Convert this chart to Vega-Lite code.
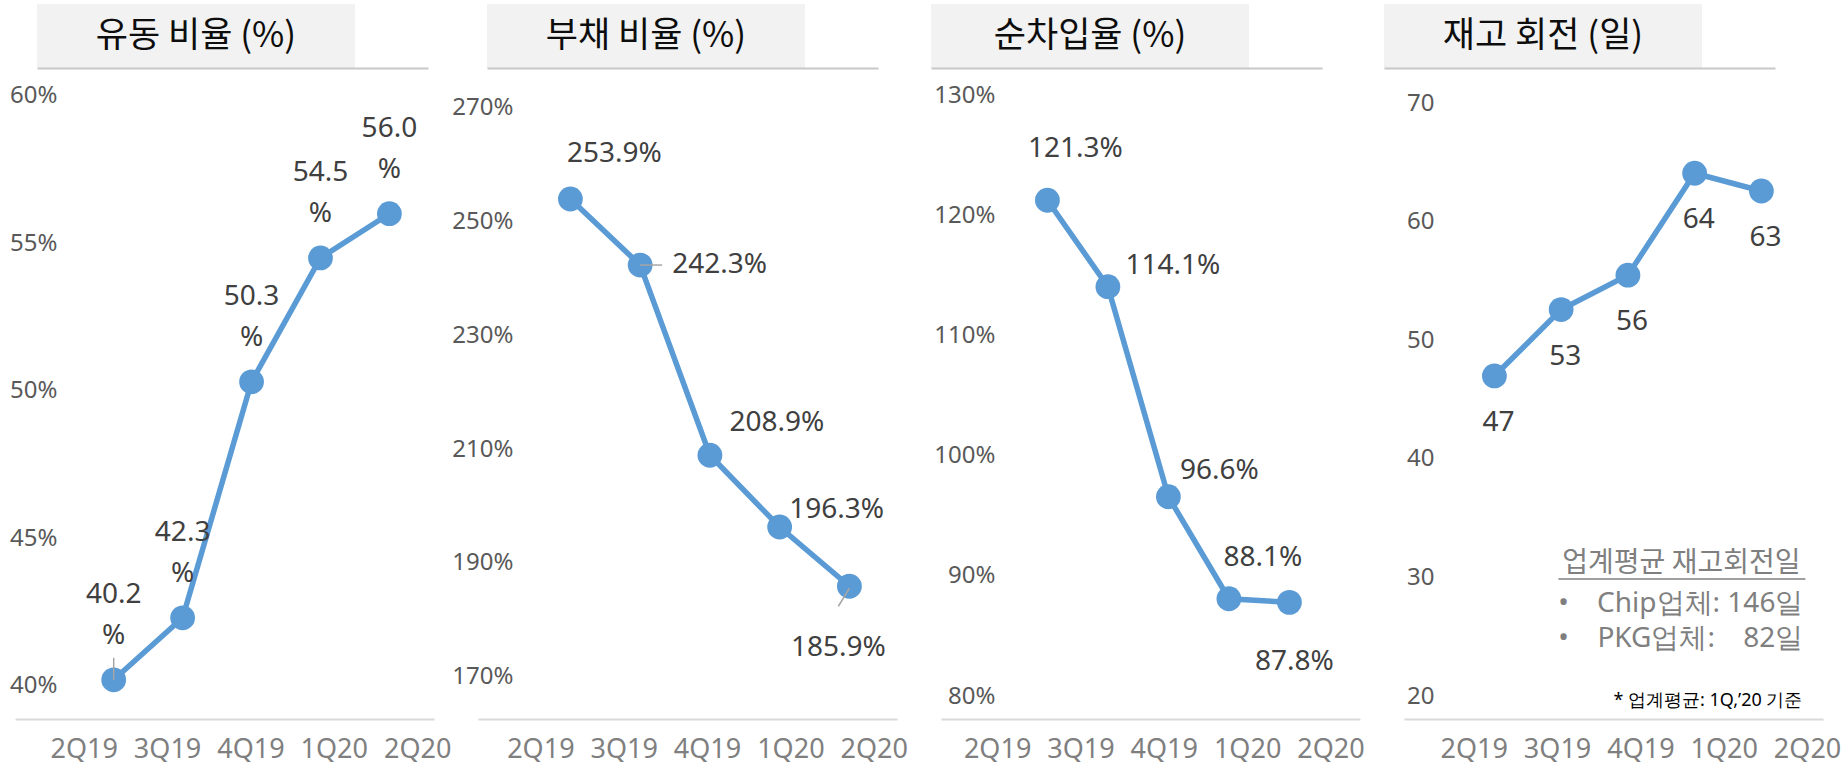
{
  "$schema": "https://vega.github.io/schema/vega-lite/v6.json",
  "background": "#ffffff",
  "padding": {"left": 9, "top": 4, "right": 0, "bottom": 0},
  "config": {"view": {"stroke": null}, "font": "Noto Sans"},
  "datasets": {
    "p1": [{"q": "2Q19", "v": 40.2}, {"q": "3Q19", "v": 42.3}, {"q": "4Q19", "v": 50.3}, {"q": "1Q20", "v": 54.5}, {"q": "2Q20", "v": 56.0}],
    "p2": [{"q": "2Q19", "v": 253.9}, {"q": "3Q19", "v": 242.3}, {"q": "4Q19", "v": 208.9}, {"q": "1Q20", "v": 196.3}, {"q": "2Q20", "v": 185.9}],
    "p3": [{"q": "2Q19", "v": 121.3}, {"q": "3Q19", "v": 114.1}, {"q": "4Q19", "v": 96.6}, {"q": "1Q20", "v": 88.1}, {"q": "2Q20", "v": 87.8}],
    "p4": [{"q": "2Q19", "v": 47.0}, {"q": "3Q19", "v": 52.6}, {"q": "4Q19", "v": 55.5}, {"q": "1Q20", "v": 64.1}, {"q": "2Q20", "v": 62.6}]
  },
  "vconcat": [
    {
      "hconcat": [
        {
          "width": 419, "height": 64,
          "data": {"values": [{"title": "유동 비율 (%)"}]},
          "encoding": {"x": {"field": "title", "type": "nominal", "scale": {"type": "band", "range": [22, 413], "paddingInner": 0, "paddingOuter": 0.11478, "align": 0}, "axis": {"labels": false, "ticks": false, "title": null, "grid": false, "domainColor": "#c8c8c8", "domainWidth": 2}}},
          "layer": [
            {"mark": {"type": "rect", "color": "#f2f2f2"}},
            {"mark": {"type": "text", "font": "Noto Sans CJK KR", "fontSize": 35, "color": "#0d0d0d"}, "encoding": {"text": {"field": "title"}}}
          ]
        },
        {
          "width": 419, "height": 64,
          "data": {"values": [{"title": "부채 비율 (%)"}]},
          "encoding": {"x": {"field": "title", "type": "nominal", "scale": {"type": "band", "range": [9, 400], "paddingInner": 0, "paddingOuter": 0.11478, "align": 0}, "axis": {"labels": false, "ticks": false, "title": null, "grid": false, "domainColor": "#c8c8c8", "domainWidth": 2}}},
          "layer": [
            {"mark": {"type": "rect", "color": "#f2f2f2"}},
            {"mark": {"type": "text", "font": "Noto Sans CJK KR", "fontSize": 35, "color": "#0d0d0d"}, "encoding": {"text": {"field": "title"}}}
          ]
        },
        {
          "width": 419, "height": 64,
          "data": {"values": [{"title": "순차입율 (%)"}]},
          "encoding": {"x": {"field": "title", "type": "nominal", "scale": {"type": "band", "range": [-10, 381], "paddingInner": 0, "paddingOuter": 0.11478, "align": 0}, "axis": {"labels": false, "ticks": false, "title": null, "grid": false, "domainColor": "#c8c8c8", "domainWidth": 2}}},
          "layer": [
            {"mark": {"type": "rect", "color": "#f2f2f2"}},
            {"mark": {"type": "text", "font": "Noto Sans CJK KR", "fontSize": 35, "color": "#0d0d0d"}, "encoding": {"text": {"field": "title"}}}
          ]
        },
        {
          "width": 419, "height": 64,
          "data": {"values": [{"title": "재고 회전 (일)"}]},
          "encoding": {"x": {"field": "title", "type": "nominal", "scale": {"type": "band", "range": [-20, 371], "paddingInner": 0, "paddingOuter": 0.11478, "align": 0}, "axis": {"labels": false, "ticks": false, "title": null, "grid": false, "domainColor": "#c8c8c8", "domainWidth": 2}}},
          "layer": [
            {"mark": {"type": "rect", "color": "#f2f2f2"}},
            {"mark": {"type": "text", "font": "Noto Sans CJK KR", "fontSize": 35, "color": "#0d0d0d"}, "encoding": {"text": {"field": "title"}}}
          ]
        }
      ],
      "spacing": 44, "bounds": "flush"
    },
    {
      "hconcat": [
        {
          "width": 419, "height": 640,
          "data": {"name": "p1"},
          "transform": [{"calculate": "format(datum.v, '.1f') + '\\n%'", "as": "lab"}],
          "layer": [
            {
              "encoding": {
                "x": {"field": "q", "type": "ordinal", "sort": null, "scale": {"type": "point", "padding": 0, "range": [98.7, 374.4]}, "axis": null},
                "y": {"field": "v", "type": "quantitative", "scale": {"domain": [38.871, 60.566], "nice": false, "zero": false}, "axis": {"values": [40, 45, 50, 55, 60], "labelExpr": "datum.value + '%'", "domain": false, "ticks": false, "grid": false, "title": null, "labelPadding": 0, "offset": -42, "labelFontSize": 24, "labelColor": "#595959", "labelFont": "Noto Sans"}}
              },
              "layer": [
                {"mark": {"type": "line", "color": "#5b9bd5", "strokeWidth": 5.5}},
                {"mark": {"type": "circle", "color": "#5b9bd5", "size": 615, "opacity": 1}},
                {"transform": [{"filter": "datum.q == '2Q19'"}], "mark": {"type": "rule", "color": "#a6a6a6", "strokeWidth": 1.5, "y2Offset": -22}, "encoding": {"y2": {"field": "v"}}},
                {"mark": {"type": "text", "font": "Noto Sans", "fontSize": 28, "color": "#404040", "baseline": "middle", "align": "center", "lineBreak": "\n", "lineHeight": 41, "dy": -85}, "encoding": {"text": {"field": "lab"}}}
              ]
            },
            {"mark": {"type": "rule", "opacity": 0}, "encoding": {"x": {"field": "q", "type": "ordinal", "sort": null, "scale": {"type": "point", "padding": 0.513, "align": 0.803}, "axis": {"orient": "bottom", "domainColor": "#d9d9d9", "domainWidth": 2, "ticks": false, "tickSize": 0, "grid": false, "title": null, "labelPadding": 30, "labelFontSize": 27, "labelColor": "#7f7f7f", "labelFont": "Noto Sans", "labelBaseline": "middle", "labelAngle": 0, "labelOverlap": false, "labelFlush": false}}}}
          ],
          "resolve": {"scale": {"x": "independent"}, "axis": {"x": "independent"}}
        },
        {
          "width": 419, "height": 640,
          "data": {"name": "p2"},
          "transform": [{"calculate": "format(datum.v, '.1f') + '%'", "as": "lab"}],
          "layer": [
            {
              "encoding": {
                "x": {"field": "q", "type": "ordinal", "sort": null, "scale": {"type": "point", "padding": 0, "range": [92.4, 371.4]}, "axis": null},
                "y": {"field": "v", "type": "quantitative", "scale": {"domain": [162.59, 274.97], "nice": false, "zero": false}, "axis": {"values": [170, 190, 210, 230, 250, 270], "labelExpr": "datum.value + '%'", "domain": false, "ticks": false, "grid": false, "title": null, "labelPadding": 0, "offset": -35, "labelFontSize": 24, "labelColor": "#595959", "labelFont": "Noto Sans"}}
              },
              "layer": [
                {"mark": {"type": "line", "color": "#5b9bd5", "strokeWidth": 5.5}},
                {"mark": {"type": "circle", "color": "#5b9bd5", "size": 615, "opacity": 1}},
                {"transform": [{"filter": "datum.q == '3Q19'"}], "mark": {"type": "rule", "color": "#a6a6a6", "strokeWidth": 1.5, "x2Offset": 22}, "encoding": {"x2": {"field": "q"}, "y2": {"field": "v"}}},
                {"transform": [{"filter": "datum.q == '2Q20'"}], "mark": {"type": "rule", "color": "#a6a6a6", "strokeWidth": 1.5, "yOffset": 2, "x2Offset": -11, "y2Offset": 20}, "encoding": {"x2": {"field": "q"}, "y2": {"field": "v"}}},
                {"transform": [{"filter": "datum.q == '2Q19'"}], "mark": {"type": "text", "font": "Noto Sans", "fontSize": 28, "color": "#404040", "baseline": "middle", "align": "center", "dx": 44, "dy": -45}, "encoding": {"text": {"field": "lab"}}},
                {"transform": [{"filter": "datum.q == '3Q19'"}], "mark": {"type": "text", "font": "Noto Sans", "fontSize": 28, "color": "#404040", "baseline": "middle", "align": "left", "dx": 32, "dy": 0}, "encoding": {"text": {"field": "lab"}}},
                {"transform": [{"filter": "datum.q == '4Q19'"}], "mark": {"type": "text", "font": "Noto Sans", "fontSize": 28, "color": "#404040", "baseline": "middle", "align": "center", "dx": 67, "dy": -32}, "encoding": {"text": {"field": "lab"}}},
                {"transform": [{"filter": "datum.q == '1Q20'"}], "mark": {"type": "text", "font": "Noto Sans", "fontSize": 28, "color": "#404040", "baseline": "middle", "align": "center", "dx": 57, "dy": -17}, "encoding": {"text": {"field": "lab"}}},
                {"transform": [{"filter": "datum.q == '2Q20'"}], "mark": {"type": "text", "font": "Noto Sans", "fontSize": 28, "color": "#404040", "baseline": "middle", "align": "center", "dx": -11, "dy": 62}, "encoding": {"text": {"field": "lab"}}}
              ]
            },
            {"mark": {"type": "rule", "opacity": 0}, "encoding": {"x": {"field": "q", "type": "ordinal", "sort": null, "scale": {"type": "point", "padding": 0.514, "align": 0.728}, "axis": {"orient": "bottom", "domainColor": "#d9d9d9", "domainWidth": 2, "ticks": false, "tickSize": 0, "grid": false, "title": null, "labelPadding": 30, "labelFontSize": 27, "labelColor": "#7f7f7f", "labelFont": "Noto Sans", "labelBaseline": "middle", "labelAngle": 0, "labelOverlap": false, "labelFlush": false}}}}
          ],
          "resolve": {"scale": {"x": "independent"}, "axis": {"x": "independent"}}
        },
        {
          "width": 419, "height": 640,
          "data": {"name": "p3"},
          "transform": [{"calculate": "format(datum.v, '.1f') + '%'", "as": "lab"}],
          "layer": [
            {
              "encoding": {
                "x": {"field": "q", "type": "ordinal", "sort": null, "scale": {"type": "point", "padding": 0, "range": [106.4, 348.4]}, "axis": null},
                "y": {"field": "v", "type": "quantitative", "scale": {"domain": [78.084, 131.4], "nice": false, "zero": false}, "axis": {"values": [80, 90, 100, 110, 120, 130], "labelExpr": "datum.value + '%'", "domain": false, "ticks": false, "grid": false, "title": null, "labelPadding": 0, "offset": -54, "labelFontSize": 24, "labelColor": "#595959", "labelFont": "Noto Sans"}}
              },
              "layer": [
                {"mark": {"type": "line", "color": "#5b9bd5", "strokeWidth": 5.5}},
                {"mark": {"type": "circle", "color": "#5b9bd5", "size": 615, "opacity": 1}},
                {"transform": [{"filter": "datum.q == '2Q19'"}], "mark": {"type": "text", "font": "Noto Sans", "fontSize": 28, "color": "#404040", "baseline": "middle", "align": "center", "dx": 28, "dy": -51}, "encoding": {"text": {"field": "lab"}}},
                {"transform": [{"filter": "datum.q == '3Q19'"}], "mark": {"type": "text", "font": "Noto Sans", "fontSize": 28, "color": "#404040", "baseline": "middle", "align": "center", "dx": 65, "dy": -21}, "encoding": {"text": {"field": "lab"}}},
                {"transform": [{"filter": "datum.q == '4Q19'"}], "mark": {"type": "text", "font": "Noto Sans", "fontSize": 28, "color": "#404040", "baseline": "middle", "align": "center", "dx": 51, "dy": -26}, "encoding": {"text": {"field": "lab"}}},
                {"transform": [{"filter": "datum.q == '1Q20'"}], "mark": {"type": "text", "font": "Noto Sans", "fontSize": 28, "color": "#404040", "baseline": "middle", "align": "center", "dx": 34, "dy": -41}, "encoding": {"text": {"field": "lab"}}},
                {"transform": [{"filter": "datum.q == '2Q20'"}], "mark": {"type": "text", "font": "Noto Sans", "fontSize": 28, "color": "#404040", "baseline": "middle", "align": "center", "dx": 5, "dy": 60}, "encoding": {"text": {"field": "lab"}}}
              ]
            },
            {"mark": {"type": "rule", "opacity": 0}, "encoding": {"x": {"field": "q", "type": "ordinal", "sort": null, "scale": {"type": "point", "padding": 0.514, "align": 0.655}, "axis": {"orient": "bottom", "domainColor": "#d9d9d9", "domainWidth": 2, "ticks": false, "tickSize": 0, "grid": false, "title": null, "labelPadding": 30, "labelFontSize": 27, "labelColor": "#7f7f7f", "labelFont": "Noto Sans", "labelBaseline": "middle", "labelAngle": 0, "labelOverlap": false, "labelFlush": false}}}}
          ],
          "resolve": {"scale": {"x": "independent"}, "axis": {"x": "independent"}}
        },
        {
          "width": 419, "height": 640,
          "data": {"name": "p4"},
          "layer": [
            {
              "encoding": {
                "x": {"field": "q", "type": "ordinal", "sort": null, "scale": {"type": "point", "padding": 0, "range": [90.4, 357.4]}, "axis": null},
                "y": {"field": "v", "type": "quantitative", "scale": {"domain": [18.06, 72.05], "nice": false, "zero": false}, "axis": {"values": [20, 30, 40, 50, 60, 70], "domain": false, "ticks": false, "grid": false, "title": null, "labelPadding": 0, "offset": -30, "labelFontSize": 24, "labelColor": "#595959", "labelFont": "Noto Sans"}}
              },
              "layer": [
                {"mark": {"type": "line", "color": "#5b9bd5", "strokeWidth": 5.5}},
                {"mark": {"type": "circle", "color": "#5b9bd5", "size": 615, "opacity": 1}},
                {"mark": {"type": "text", "font": "Noto Sans", "fontSize": 28, "color": "#404040", "baseline": "middle", "align": "center", "dx": 4, "dy": 47}, "encoding": {"text": {"field": "v", "type": "quantitative", "format": ".0f"}}},
                {"transform": [{"filter": "datum.q == '2Q20'"}], "mark": {"type": "text", "font": "Noto Sans CJK KR", "fontSize": 28, "color": "#7f7f7f", "baseline": "middle", "align": "center", "dx": -80}, "encoding": {"y": {"datum": 31.13, "type": "quantitative"}, "text": {"value": "업계평균 재고회전일"}}},
                {"transform": [{"filter": "datum.q == '2Q20'"}], "mark": {"type": "rule", "color": "#7f7f7f", "strokeWidth": 1.5, "xOffset": -203, "x2Offset": 44}, "encoding": {"x2": {"field": "q"}, "y": {"datum": 29.87, "type": "quantitative"}}},
                {"transform": [{"filter": "datum.q == '2Q20'"}], "mark": {"type": "text", "font": "Noto Sans", "fontSize": 28, "color": "#7f7f7f", "baseline": "middle", "align": "center", "dx": -198}, "encoding": {"y": {"datum": 27.76, "type": "quantitative"}, "text": {"value": "•"}}},
                {"transform": [{"filter": "datum.q == '2Q20'"}], "mark": {"type": "text", "font": "Noto Sans", "fontSize": 28, "color": "#7f7f7f", "baseline": "middle", "align": "center", "dx": -198}, "encoding": {"y": {"datum": 24.81, "type": "quantitative"}, "text": {"value": "•"}}},
                {"transform": [{"filter": "datum.q == '2Q20'"}], "mark": {"type": "text", "font": "Noto Sans", "fontSize": 28, "color": "#7f7f7f", "baseline": "middle", "align": "right", "dx": 42}, "encoding": {"y": {"datum": 27.76, "type": "quantitative"}, "text": {"value": "Chip업체: 146일"}}},
                {"transform": [{"filter": "datum.q == '2Q20'"}], "mark": {"type": "text", "font": "Noto Sans", "fontSize": 28, "color": "#7f7f7f", "baseline": "middle", "align": "left", "dx": -164}, "encoding": {"y": {"datum": 24.81, "type": "quantitative"}, "text": {"value": "PKG업체:"}}},
                {"transform": [{"filter": "datum.q == '2Q20'"}], "mark": {"type": "text", "font": "Noto Sans", "fontSize": 28, "color": "#7f7f7f", "baseline": "middle", "align": "right", "dx": 42}, "encoding": {"y": {"datum": 24.81, "type": "quantitative"}, "text": {"value": "82일"}}},
                {"transform": [{"filter": "datum.q == '2Q20'"}], "mark": {"type": "text", "font": "Noto Sans", "fontSize": 18, "color": "#000000", "baseline": "middle", "align": "right", "dx": 41}, "encoding": {"y": {"datum": 19.58, "type": "quantitative"}, "text": {"value": "* 업계평균: 1Q,’20 기준"}}}
              ]
            },
            {"mark": {"type": "rule", "opacity": 0}, "encoding": {"x": {"field": "q", "type": "ordinal", "sort": null, "scale": {"type": "point", "padding": 0.514, "align": 0.814}, "axis": {"orient": "bottom", "domainColor": "#d9d9d9", "domainWidth": 2, "ticks": false, "tickSize": 0, "grid": false, "title": null, "labelPadding": 30, "labelFontSize": 27, "labelColor": "#7f7f7f", "labelFont": "Noto Sans", "labelBaseline": "middle", "labelAngle": 0, "labelOverlap": false, "labelFlush": false}}}}
          ],
          "resolve": {"scale": {"x": "independent"}, "axis": {"x": "independent"}}
        }
      ],
      "spacing": 44, "bounds": "flush"
    }
  ],
  "spacing": 11
}
